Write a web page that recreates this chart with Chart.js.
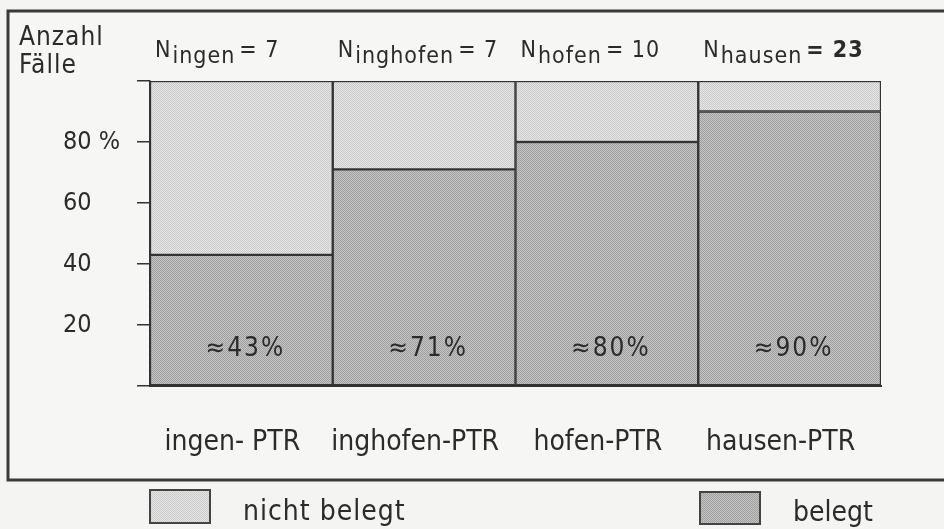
<!DOCTYPE html>
<html>
<head>
<meta charset="utf-8">
<script src="https://cdn.jsdelivr.net/npm/chart.js@4"></script>
<style>
  html, body { margin: 0; padding: 0; background: #f4f4f2; }
  #wrap { width: 944px; height: 529px; position: relative; }
</style>
</head>
<body>
<div id="wrap"><canvas id="chart"></canvas></div>
<script>
// data
const categories = ['ingen- PTR', 'inghofen-PTR', 'hofen-PTR', 'hausen-PTR'];
const headNames = ['ingen', 'inghofen', 'hofen', 'hausen'];
const counts = [7, 7, 10, 23];
const belegt = [43, 71, 80, 90];
const nichtBelegt = [57, 29, 20, 10];
const yTicks = [0, 20, 40, 60, 80, 100];

const FONT = "'DejaVu Sans Condensed', 'DejaVu Sans', sans-serif";
const INK = '#2b2b2b';

// stippled fills like the scan
function stipple(a, b) {
  const c = document.createElement('canvas');
  c.width = 2; c.height = 2;
  const x = c.getContext('2d');
  x.fillStyle = a; x.fillRect(0, 0, 2, 2);
  x.fillStyle = b; x.fillRect(0, 0, 1, 1); x.fillRect(1, 1, 1, 1);
  return x.createPattern(c, 'repeat');
}
const lightFill = stipple('#e6e6e6', '#cbcbcb');
const darkFill = stipple('#c4c4c4', '#a0a0a0');

const extras = {
  id: 'extras',
  beforeDraw(chart) {
    const ctx = chart.ctx;
    ctx.save();
    ctx.fillStyle = '#f6f6f4';
    ctx.fillRect(8, 11, 940, 469);
    ctx.strokeStyle = '#3a3a3a';
    ctx.lineWidth = 3;
    ctx.strokeRect(8, 11, 960, 469);
    ctx.restore();
  },
  afterDraw(chart) {
    const ctx = chart.ctx;
    const x = chart.scales.x, y = chart.scales.y;
    const half = (x.getPixelForValue(1) - x.getPixelForValue(0)) / 2;
    ctx.save();
    ctx.fillStyle = INK;
    ctx.textBaseline = 'alphabetic';

    // axis title
    ctx.font = '26px ' + FONT;
    ctx.textAlign = 'left';
    ctx.letterSpacing = '1px';
    ctx.fillText('Anzahl', 19, 45);
    ctx.fillText('Fälle', 19, 73);

    // N headers
    categories.forEach((c, i) => {
      let px = x.getPixelForValue(i) - half + 5;
      ctx.font = '23px ' + FONT;
      ctx.fillText('N', px, 57);
      px += ctx.measureText('N').width + 1;
      ctx.fillText(headNames[i], px, 63);
      px += ctx.measureText(headNames[i]).width + 4;
      ctx.font = (i === 3 ? 'bold ' : '') + '23px ' + FONT;
      ctx.fillText('= ' + counts[i], px, 57);
    });

    // percentages inside bars
    ctx.font = '26px ' + FONT;
    ctx.letterSpacing = '2px';
    ctx.textAlign = 'center';
    ctx.textBaseline = 'middle';
    belegt.forEach((v, i) => {
      ctx.fillText('≈' + v + '%', x.getPixelForValue(i) + 4, y.getPixelForValue(12));
    });

    // legend below the frame
    ctx.textAlign = 'left';
    ctx.textBaseline = 'alphabetic';
    ctx.font = '28px ' + FONT;
    ctx.letterSpacing = '1px';
    ctx.lineWidth = 2;
    ctx.strokeStyle = '#444';
    ctx.fillStyle = lightFill;
    ctx.fillRect(150, 490, 60, 33);
    ctx.strokeRect(150, 490, 60, 33);
    ctx.fillStyle = darkFill;
    ctx.fillRect(700, 492, 60, 32);
    ctx.strokeRect(700, 492, 60, 32);
    ctx.fillStyle = INK;
    ctx.fillText('nicht belegt', 243, 520);
    ctx.letterSpacing = '0px';
    ctx.fillText('belegt', 793, 521);
    ctx.restore();
  }
};

new Chart(document.getElementById('chart'), {
  type: 'bar',
  data: {
    labels: categories,
    datasets: [{
      label: 'belegt',
      data: belegt,
      backgroundColor: darkFill,
      borderColor: '#333',
      borderWidth: 1.5,
      borderSkipped: false
    }, {
      label: 'nicht belegt',
      data: nichtBelegt,
      backgroundColor: lightFill,
      borderColor: '#333',
      borderWidth: 1.5,
      borderSkipped: false
    }]
  },
  options: {
    responsive: true,
    maintainAspectRatio: false,
    animation: false,
    layout: { padding: { left: 63, top: 81, right: 63, bottom: 0 } },
    datasets: { bar: { barPercentage: 1, categoryPercentage: 1 } },
    plugins: { legend: { display: false }, tooltip: { enabled: false } },
    scales: {
      x: {
        stacked: true,
        afterFit: s => { s.height = 143; },
        grid: { display: false, drawTicks: false },
        border: { display: true, color: '#333', width: 2 },
        ticks: { color: INK, font: { family: FONT, size: 28 }, padding: 40, labelOffset: -9 }
      },
      y: {
        stacked: true,
        min: 0,
        max: 100,
        afterFit: s => { s.width = 87; },
        afterBuildTicks: s => { s.ticks = yTicks.map(v => ({ value: v })); },
        grid: { drawOnChartArea: false, tickLength: 13, color: '#333', lineWidth: 1.5 },
        border: { display: true, color: '#333', width: 1.5 },
        ticks: {
          color: INK,
          font: { family: FONT, size: 25 },
          crossAlign: 'far',
          callback: v => (v === 80 ? '80 %' : (v === 0 || v === 100 ? '' : v))
        }
      }
    }
  },
  plugins: [extras]
});
</script>
</body>
</html>
